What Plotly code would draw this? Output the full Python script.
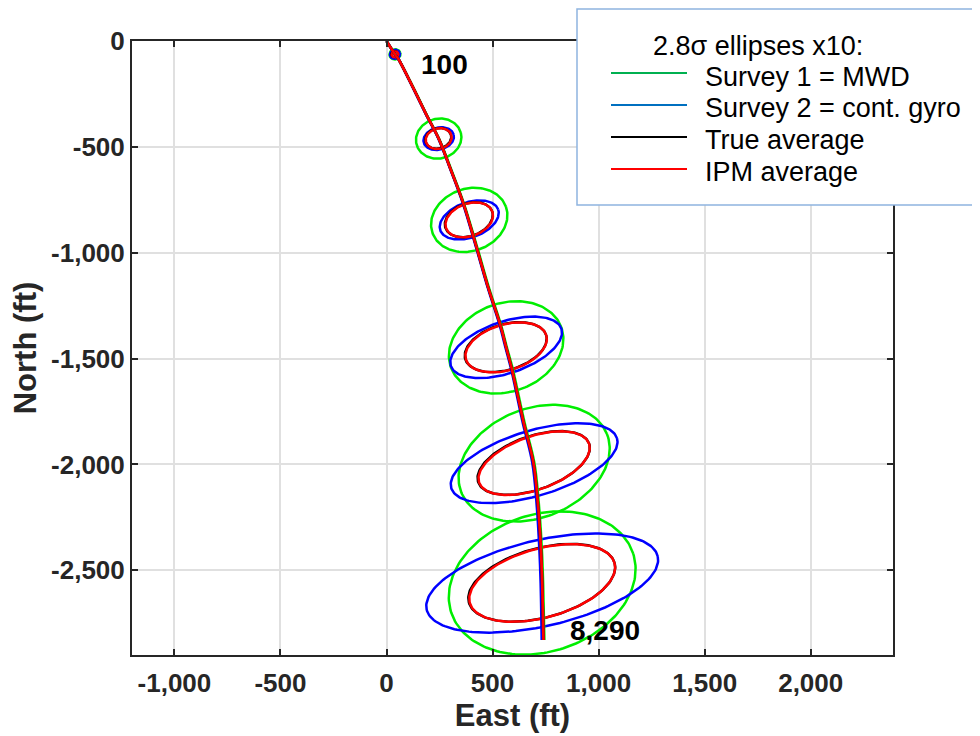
import numpy as np
import plotly.graph_objects as go

# ---------------- data ----------------
# well path, East / North in ft
traj_e = [0, 40, 56, 130, 190, 246, 300, 363, 426, 481, 536, 564, 591, 646, 693, 715, 728, 734, 740]
traj_n = [0, -63, -85, -230, -352, -461, -600, -769, -980, -1170, -1340, -1447, -1550, -1800, -1994, -2200, -2400, -2560, -2829]
# survey 1 (MWD) and survey 2 (gyro) East values along the same North values
survey1_e = [0, 40, 56, 131, 191, 247, 302, 365, 429, 484, 539, 567, 595, 650, 697, 719, 732, 738, 744]
survey2_e = [0, 40, 56, 129, 189, 245, 299, 361, 424, 479, 533, 561, 588, 642, 688, 709, 721, 727, 732]

# ellipse centres (ft)
ell_e = [40, 246, 390, 564, 696, 734]
ell_n = [-63, -461, -845, -1447, -1994, -2560]
# survey 1 = MWD (green) semi-axes (ft) and tilt (deg)
mwd_a = [26, 108, 184, 277, 370, 451]
mwd_b = [24, 94, 147, 209, 257, 324]
mwd_t = [15, 15, 20, 20, 22, 18]
# survey 2 = cont. gyro (blue)
gyro_a = [24, 73, 145, 275, 408, 559]
gyro_b = [21, 52, 83, 122, 154, 203]
gyro_t = [15, 15, 20, 18.7, 16.8, 13]
# IPM average (red)
ipm_a = [16, 62, 116, 198, 275, 354]
ipm_b = [14, 48, 77, 108, 126, 163]
ipm_t = [15, 15, 20, 16.8, 19.7, 15.5]
# true average (black)
true_a = [16, 62, 117, 199, 277, 356]
true_b = [14, 48, 77, 108, 127, 164]
true_t = [15, 15, 20, 16.5, 19.3, 15.2]

x_tick_vals = [-1000, -500, 0, 500, 1000, 1500, 2000]
x_tick_text = ["-1,000", "-500", "0", "500", "1,000", "1,500", "2,000"]
y_tick_vals = [0, -500, -1000, -1500, -2000, -2500]
y_tick_text = ["0", "-500", "-1,000", "-1,500", "-2,000", "-2,500"]

md_labels = ["100", "8,290"]
md_label_e = [154, 857]
md_label_n = [-112, -2786]

legend_title = "2.8\u03c3 ellipses x10:"
legend_names = ["Survey 1 = MWD", "Survey 2 = cont. gyro", "True average", "IPM average"]

# ---------------- figure ----------------
PLOT_GREEN = "#00ee00"
PLOT_BLUE = "#0000ff"
PLOT_RED = "#ff0000"
PLOT_BLACK = "#000000"
FONT = "Liberation Sans, Arial"

fig = go.Figure()


def ellipse(cx, cy, a, b, t_deg):
    s = np.linspace(0, 2 * np.pi, 181)
    t = np.radians(t_deg)
    x = a * np.cos(s)
    y = b * np.sin(s)
    return cx + x * np.cos(t) - y * np.sin(t), cy + x * np.sin(t) + y * np.cos(t)


def add_ellipses(A, B, T, color, dx=0.0, dy=0.0):
    for cx, cy, a, b, t in zip(ell_e, ell_n, A, B, T):
        ex, ey = ellipse(cx + dx, cy + dy, a, b, t)
        fig.add_trace(go.Scatter(x=ex, y=ey, mode="lines",
                                 line=dict(color=color, width=2.5),
                                 showlegend=False, hoverinfo="skip"))


add_ellipses(mwd_a, mwd_b, mwd_t, PLOT_GREEN)
add_ellipses(gyro_a, gyro_b, gyro_t, PLOT_BLUE)
add_ellipses(true_a, true_b, true_t, PLOT_BLACK, dx=-2, dy=1)
add_ellipses(ipm_a, ipm_b, ipm_t, PLOT_RED)

fig.add_trace(go.Scatter(x=survey1_e, y=traj_n, mode="lines", line=dict(color=PLOT_GREEN, width=2.7, shape="spline"),
                         showlegend=False, hoverinfo="skip"))
fig.add_trace(go.Scatter(x=survey2_e, y=traj_n, mode="lines", line=dict(color=PLOT_BLUE, width=2.7, shape="spline"),
                         showlegend=False, hoverinfo="skip"))
fig.add_trace(go.Scatter(x=traj_e, y=traj_n, mode="lines", line=dict(color=PLOT_BLACK, width=2.7, shape="spline"),
                         showlegend=False, hoverinfo="skip"))
fig.add_trace(go.Scatter(x=traj_e, y=traj_n, mode="lines", line=dict(color=PLOT_RED, width=2.7, shape="spline"),
                         showlegend=False, hoverinfo="skip"))

for txt, ex, ny in zip(md_labels, md_label_e, md_label_n):
    fig.add_annotation(x=ex, y=ny, text="<b>%s</b>" % txt, showarrow=False, xanchor="left", yanchor="middle",
                       font=dict(family=FONT, size=28, color="#000000"))

# page offset (body margin) and figure geometry
OFF = 8
W, H = 972, 728
L, R, T, B = 124, 87, 33, 81
pw, ph = W - L - R, H - T - B


def px(xs):
    """screen pixel x -> paper x"""
    return (xs - OFF - L) / pw


def py(ys):
    """screen pixel y -> paper y"""
    return (H - B - (ys - OFF)) / ph


# manual legend box
fig.add_shape(type="rect", xref="paper", yref="paper", x0=px(577), x1=px(1000), y0=py(205), y1=py(9),
              line=dict(color="#8fb4e0", width=1.5), fillcolor="white", layer="above")
fig.add_annotation(xref="paper", yref="paper", x=px(651), y=py(46), text=legend_title, showarrow=False,
                   xanchor="left", yanchor="middle", font=dict(family=FONT, size=27, color="black"))
leg_colors = ["#00b050", "#0070c0", "#000000", "#ff0000"]
leg_line_y = [73, 105, 137, 169]
leg_text_y = [77, 108, 140, 172]
for name, col, ly, ty in zip(legend_names, leg_colors, leg_line_y, leg_text_y):
    fig.add_shape(type="line", xref="paper", yref="paper", x0=px(611), x1=px(687), y0=py(ly), y1=py(ly),
                  line=dict(color=col, width=2), layer="above")
    fig.add_annotation(xref="paper", yref="paper", x=px(703), y=py(ty), text=name, showarrow=False,
                       xanchor="left", yanchor="middle",
                       font=dict(family=FONT, size=27, color="black"))

axis_common = dict(showline=True, linecolor="#262626", linewidth=2, mirror="ticks",
                   ticks="inside", ticklen=6, tickwidth=2, tickcolor="#262626",
                   showgrid=True, gridcolor="#e0e0e0", gridwidth=2, zeroline=False,
                   tickfont=dict(family=FONT, size=26, color="#262626"))

fig.update_xaxes(range=[-1200, 2388], tickvals=x_tick_vals, ticktext=["<b>%s</b>" % t for t in x_tick_text],
                 ticklabelstandoff=4,
                 title=dict(text="<b>East (ft)</b>", font=dict(family=FONT, size=31, color="#262626"),
                            standoff=6),
                 **axis_common)
fig.update_yaxes(range=[-2900, 0], tickvals=y_tick_vals, ticktext=["<b>%s</b>" % t for t in y_tick_text],
                 title=dict(text="<b>North (ft)</b>", font=dict(family=FONT, size=31, color="#262626"),
                            standoff=6),
                 **axis_common)

fig.update_layout(width=W, height=H, margin=dict(l=L, r=R, t=T, b=B, autoexpand=False),
                  paper_bgcolor="white", plot_bgcolor="white", showlegend=False)

fig.write_html("out.html")
